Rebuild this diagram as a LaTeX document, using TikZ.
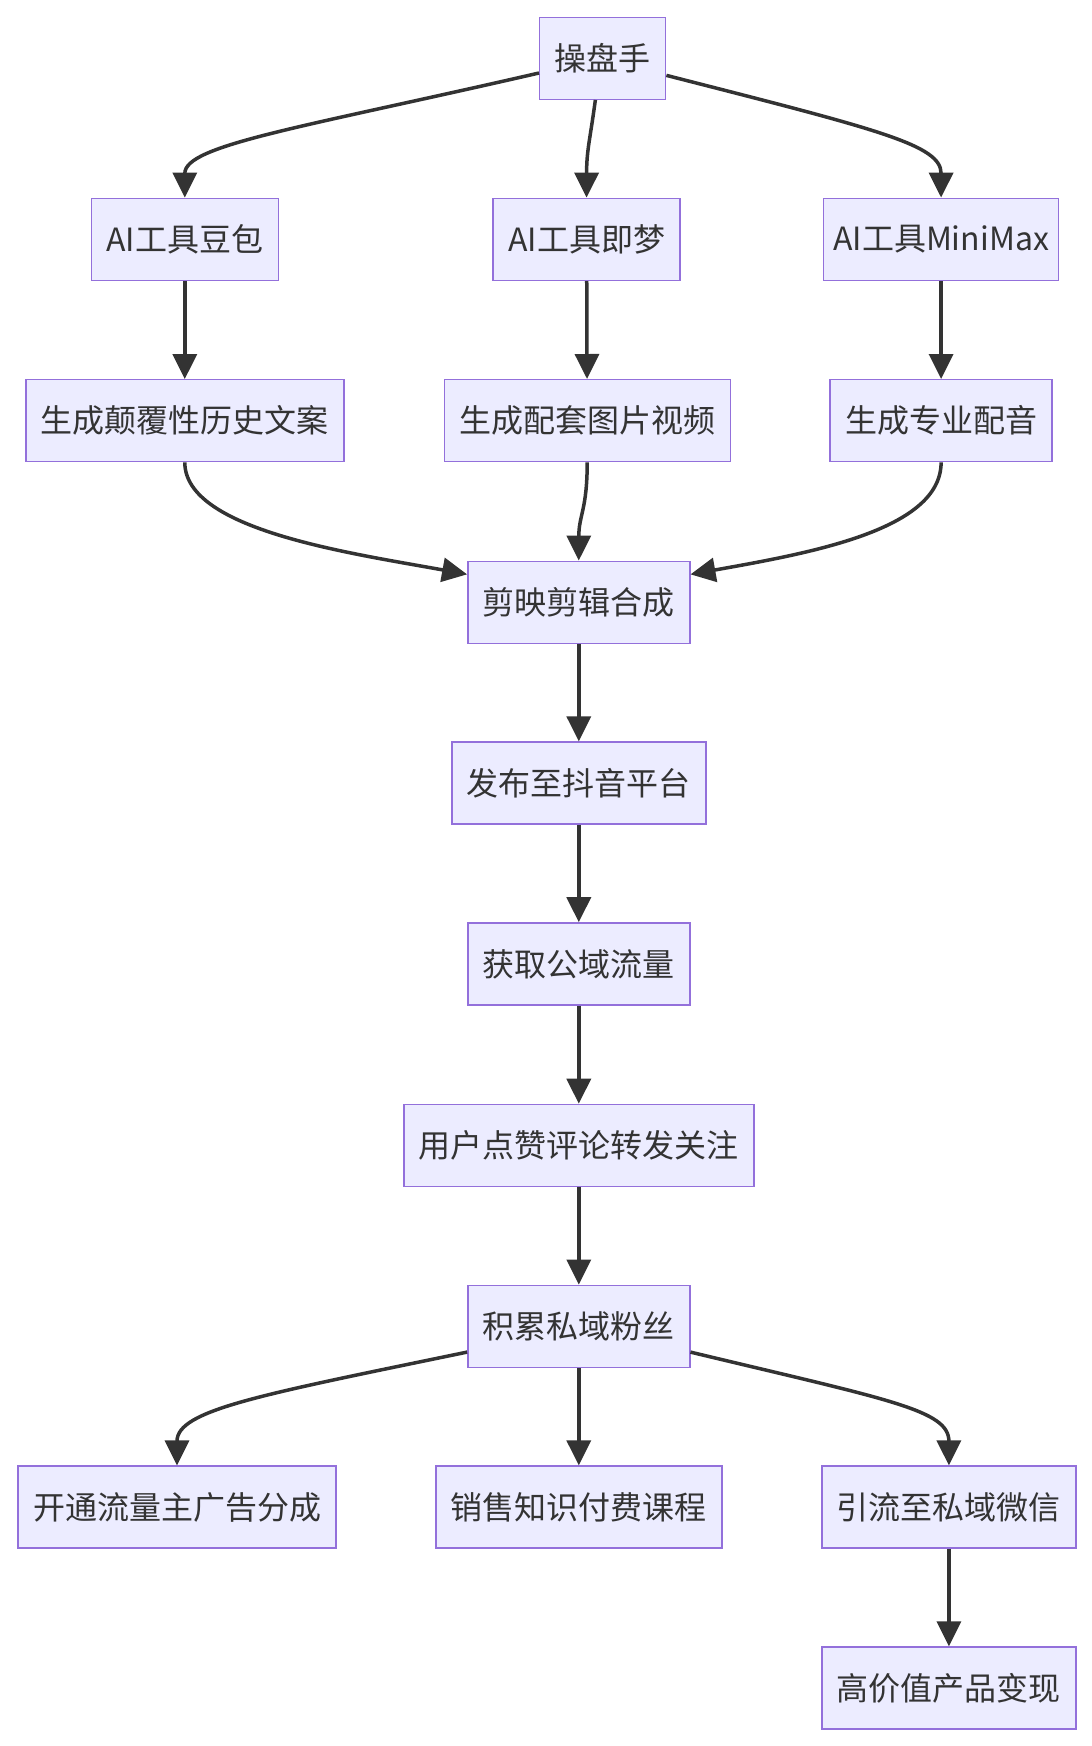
\documentclass[tikz,border=0pt]{standalone}
\usepackage{fontspec}
\setmainfont{Noto Sans CJK SC}
\usepackage{xcolor}
\usetikzlibrary{arrows.meta}
\definecolor{boxfill}{HTML}{ECECFF}
\definecolor{boxline}{HTML}{9370DB}
\definecolor{ink}{HTML}{333333}
\tikzset{box/.style={draw=boxline,fill=boxfill,line width=0.7pt,text=ink,align=center,
    minimum height=41pt,inner xsep=7.5pt,font=\fontsize{16pt}{19pt}\selectfont},
  arr/.style={-{Triangle[length=12.5pt,width=12pt]},line width=1.75pt,draw=ink}}

\begin{document}
\begin{tikzpicture}[x=0.5pt,y=-0.5pt]
\useasboundingbox (0,0) rectangle (1092,1746);
\node[box] (trader)   at (602.7,58.3)  {操盘手};
\node[box] (doubao)   at (184.8,239.3) {AI工具豆包};
\node[box] (jimeng)   at (586.6,239.3) {AI工具即梦};
\node[box,inner xsep=4.8pt] (minimax) at (941.1,239.3) {AI工具MiniMax};
\node[box] (copy)     at (184.8,420.7) {生成颠覆性历史文案};
\node[box] (media)    at (587.2,420.7) {生成配套图片视频};
\node[box] (voice)    at (941.1,420.7) {生成专业配音};
\node[box] (edit)     at (578.8,602.2) {剪映剪辑合成};
\node[box] (publish)  at (578.8,783.1) {发布至抖音平台};
\node[box] (traffic)  at (578.8,963.9) {获取公域流量};
\node[box] (engage)   at (578.8,1145.4) {用户点赞评论转发关注};
\node[box] (fans)     at (578.8,1326.3) {积累私域粉丝};
\node[box] (adshare)  at (177.0,1507.1) {开通流量主广告分成};
\node[box] (course)   at (578.8,1507.1) {销售知识付费课程};
\node[box] (wechat)   at (948.9,1507.1) {引流至私域微信};
\node[box] (monetize) at (948.9,1688.0) {高价值产品变现};
% tools
\draw[arr] (trader.193) .. controls (300,128) and (184.8,145) .. (doubao.north);
\draw[arr] (trader.-100) .. controls (590,140) and (586.6,150) .. (jimeng.north);
\draw[arr] (trader.-15) .. controls (880,130) and (941.1,145) .. (minimax.north);
\draw[arr] (doubao) -- (copy);
\draw[arr] (jimeng) -- (media);
\draw[arr] (minimax) -- (voice);
% merge
\draw[arr] (copy.south) .. controls (184.8,530) and (350,553) .. (edit.166);
\draw[arr] (media.south) .. controls (587.2,510) and (578.8,515) .. (edit.north);
\draw[arr] (voice.south) .. controls (941.1,530) and (810,553) .. (edit.14);
\draw[arr] (edit) -- (publish);
\draw[arr] (publish) -- (traffic);
\draw[arr] (traffic) -- (engage);
\draw[arr] (engage) -- (fans);
% monetization
\draw[arr] (fans.193) .. controls (260,1395) and (177,1410) .. (adshare.north);
\draw[arr] (fans) -- (course);
\draw[arr] (fans.-13) .. controls (890,1400) and (948.9,1410) .. (wechat.north);
\draw[arr] (wechat) -- (monetize);
\end{tikzpicture}
\end{document}
